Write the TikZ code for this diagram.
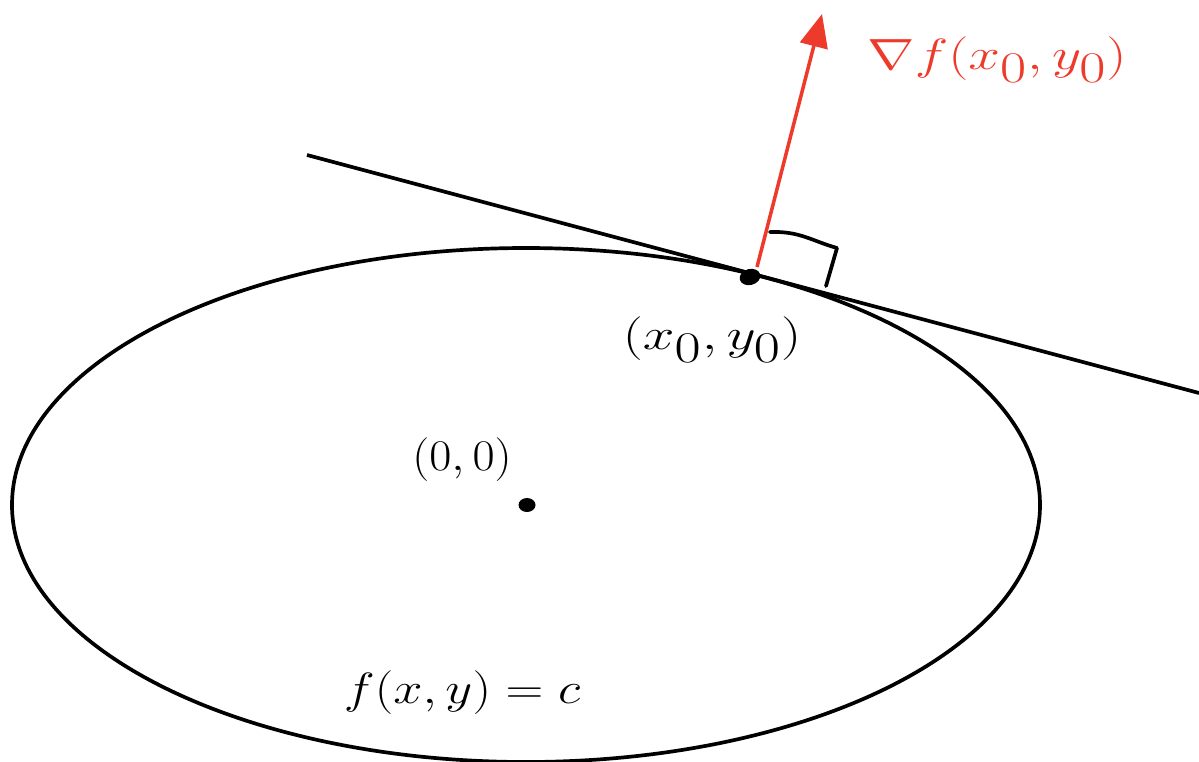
\documentclass[tikz,border=0pt]{standalone}
\usetikzlibrary{arrows.meta,shapes.geometric}
\definecolor{gradred}{HTML}{EE3A2A}
\tikzset{
  curve/.style={line width=2.1pt, black},
  dotmark/.style={ellipse, fill=black, inner sep=0pt},
  lbl/.style={inner sep=1pt, font=\fontsize{34}{36}\selectfont},
  gradarrow/.style={line width=2pt, gradred, -{Triangle[length=0.66cm,width=0.56cm]}},
}
\begin{document}
\begin{tikzpicture}[x=0.02cm,y=-0.02cm]
\useasboundingbox (0,0) rectangle (1199,761);
\clip (0,0) rectangle (1199,761);
% level curve
\draw[curve] (526,505) ellipse [x radius=514, y radius=257];
% tangent line
\coordinate (tA) at (307,155);
\coordinate (tB) at (1199,393);
\draw[curve] (tA) -- (tB);
% points
\node[dotmark, minimum width=0.42cm, minimum height=0.32cm, rotate=15] (p0) at (750,277) {};
\node[dotmark, minimum width=0.34cm, minimum height=0.28cm] (o) at (527,505) {};
% gradient arrow
\coordinate (tip) at (822,14);
\draw[gradarrow] (757,267) -- (tip);
% right-angle mark
\draw[curve, line cap=round, line join=round] (770,232) .. controls (800,231) and (812,241) .. (837,248) -- (826,286);
% labels
\node[lbl, text=gradred] (glbl) at (997,60) {\scalebox{1.3}[1]{$\nabla f(x_0,y_0)$}};
\node[lbl] (plbl) at (712,340) {\scalebox{1.3}[1]{$(x_0,y_0)$}};
\node[lbl, font=\fontsize{27}{29}\selectfont] (olbl) at (462,460) {\scalebox{1.1}[1]{$(0,0)$}};
\node[lbl] (flbl) at (462,693) {\scalebox{1.2}[1]{$f(x,y) = c$}};
\end{tikzpicture}
\end{document}
